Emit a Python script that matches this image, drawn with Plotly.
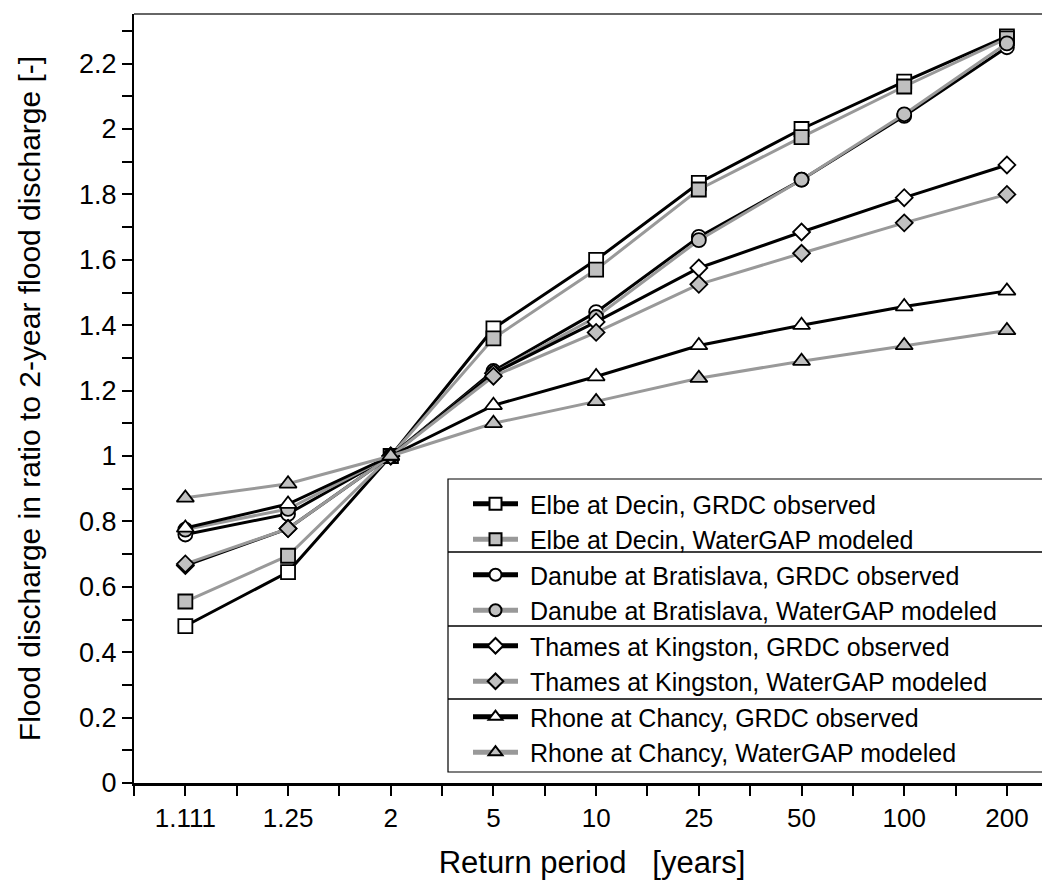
import plotly.graph_objects as go

periods = ["1.111", "1.25", "2", "5", "10", "25", "50", "100", "200"]

elbe_obs = [0.48, 0.645, 1.0, 1.39, 1.60, 1.835, 2.0, 2.145, 2.283]
elbe_mod = [0.555, 0.695, 1.0, 1.36, 1.57, 1.815, 1.975, 2.13, 2.277]
danube_obs = [0.76, 0.823, 1.0, 1.26, 1.44, 1.67, 1.845, 2.04, 2.25]
danube_mod = [0.775, 0.838, 1.0, 1.253, 1.425, 1.66, 1.845, 2.045, 2.262]
thames_obs = [0.665, 0.778, 1.0, 1.253, 1.41, 1.575, 1.685, 1.79, 1.89]
thames_mod = [0.67, 0.778, 1.0, 1.244, 1.378, 1.525, 1.62, 1.713, 1.80]
rhone_obs = [0.78, 0.853, 1.0, 1.155, 1.243, 1.338, 1.40, 1.457, 1.505]
rhone_mod = [0.872, 0.915, 1.0, 1.10, 1.167, 1.238, 1.29, 1.338, 1.384]

series = [
    ("Elbe at Decin, GRDC observed", elbe_obs, "square", "obs"),
    ("Elbe at Decin, WaterGAP modeled", elbe_mod, "square", "mod"),
    ("Danube at Bratislava, GRDC observed", danube_obs, "circle", "obs"),
    ("Danube at Bratislava, WaterGAP modeled", danube_mod, "circle", "mod"),
    ("Thames at Kingston, GRDC observed", thames_obs, "diamond", "obs"),
    ("Thames at Kingston, WaterGAP modeled", thames_mod, "diamond", "mod"),
    ("Rhone at Chancy, GRDC observed", rhone_obs, "triangle-up", "obs"),
    ("Rhone at Chancy, WaterGAP modeled", rhone_mod, "triangle-up", "mod"),
]

FONT = "Liberation Sans, Arial, sans-serif"
xidx = list(range(len(periods)))

fig = go.Figure()
for name, vals, sym, kind in series:
    line_col = "#000000" if kind == "obs" else "#999999"
    fill = "#ffffff" if kind == "obs" else "#c0c0c0"
    size = {"square": 14, "circle": 14, "diamond": 13, "triangle-up": 15}[sym]
    fig.add_trace(go.Scatter(
        x=xidx, y=vals, name="\u00a0" + name, mode="lines+markers",
        line=dict(color=line_col, width=3),
        marker=dict(symbol=sym, size=size, color=fill,
                    line=dict(color="#000000", width=1.8)),
    ))

# page body has an 8px margin: the figure starts at screen (8, 8)
OFF = 8
W, H = 1050 - OFF, 881 - OFF
L, R, T, B = 134 - OFF, 0, 14 - OFF, 881 - 783
pw, ph = W - L - R, H - T - B


def px(xs):
    return (xs - OFF - L) / pw


def py(ys):
    return (H - B - (ys - OFF)) / ph


shapes = [
    dict(type="line", xref="paper", yref="paper", x0=0, x1=1, y0=1, y1=1,
         line=dict(color="#333333", width=1.5)),
    dict(type="rect", xref="paper", yref="paper", x0=px(448), x1=px(1048),
         y0=py(772), y1=py(479), line=dict(color="#000000", width=1.2),
         fillcolor="#ffffff", layer="below"),
]
for sy in (552, 626, 699):
    shapes.append(dict(type="line", xref="paper", yref="paper", x0=px(448), x1=px(1048),
                       y0=py(sy), y1=py(sy), line=dict(color="#000000", width=1.5)))

fig.update_layout(
    width=W, height=H,
    margin=dict(l=L, r=R, t=T, b=B, pad=0, autoexpand=False),
    plot_bgcolor="rgba(0,0,0,0)", paper_bgcolor="#ffffff",
    font=dict(family=FONT, size=25, color="#000000"),
    showlegend=True,
    legend=dict(
        x=px(468), y=py(481), xanchor="left", yanchor="top",
        bgcolor="rgba(0,0,0,0)", borderwidth=0,
        font=dict(family=FONT, size=25, color="#000000"),
        itemsizing="constant", itemwidth=45, tracegroupgap=0,
    ),
    shapes=shapes,
    xaxis=dict(
        range=[-0.5, (1050 - 187) / 102.5], tickmode="array", tickvals=xidx, ticktext=periods,
        showgrid=False, zeroline=False, showline=True, linecolor="#000000", linewidth=3,
        ticks="outside", ticklen=10, tickwidth=1.5, tickcolor="#000000",
        minor=dict(dtick=0.5, tick0=-0.5, ticks="outside", ticklen=10, tickwidth=1.5,
                   tickcolor="#000000", showgrid=False),
        tickfont=dict(family=FONT, size=26), automargin=False,
        title=dict(text="Return period\u00a0\u00a0\u00a0[years]", font=dict(family=FONT, size=31),
                   standoff=20),
    ),
    yaxis=dict(
        range=[0, 769 / 327.0], dtick=0.2, tick0=0,
        showgrid=False, zeroline=False, showline=True, linecolor="#000000", linewidth=2,
        ticks="outside", ticklen=10, tickwidth=1.5, tickcolor="#000000",
        minor=dict(dtick=0.1, ticks="outside", ticklen=10, tickwidth=1.5,
                   tickcolor="#000000", showgrid=False),
        tickfont=dict(family=FONT, size=27), automargin=False,
        title=dict(text="Flood discharge in ratio to 2-year flood discharge [-]",
                   font=dict(family=FONT, size=30), standoff=30),
    ),
)

fig.write_html("out.html")
